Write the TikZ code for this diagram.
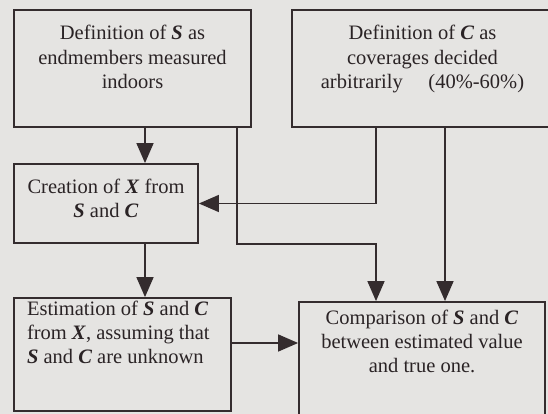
\documentclass[tikz,border=0pt]{standalone}
\usepackage{fontspec}
\setmainfont{Liberation Serif}
\usetikzlibrary{arrows.meta}

\definecolor{paper}{RGB}{229,228,226}
\definecolor{ink}{RGB}{52,44,46}

% bold italic symbols
\newcommand{\V}[1]{\textbf{\textit{#1}}}
% text of one box: [alignment]{width}{height}{first baseline}{text}
\newcommand{\boxtext}[5][\centering]{%
  \begin{minipage}[c][#3][t]{#2}#1\rule{0pt}{#4}#5\end{minipage}}

\tikzset{
  box/.style={draw=ink, line width=1.8pt, inner sep=0pt,
    font=\fontsize{20.5}{24.4}\selectfont, text=ink!80!black},
  arr/.style={draw=ink, line width=1.5pt,
    -{Triangle[length=20pt,width=17pt]}}
}

\begin{document}
\begin{tikzpicture}[x=1pt,y=-1pt]
  \fill[paper] (0,0) rectangle (548,414);
  \useasboundingbox (0,0) rectangle (548,414);

  % boxes
  \node[box] (defS) at (132.5,68.5)
    {\boxtext{237pt}{117pt}{30pt}{Definition of \V{S} as\\endmembers measured\\indoors}};
  \node[box] (defC) at (422.5,68.5)
    {\boxtext{261pt}{117pt}{30pt}{Definition of \V{C} as\\coverages decided\\arbitrarily\quad\ (40\%-60\%)}};
  \node[box] (creX) at (106,203.5)
    {\boxtext{184pt}{79pt}{29pt}{Creation of \V{X} from\\\V{S} and \V{C}}};
  \node[box] (estSC) at (122.5,354.5)
    {\boxtext[\raggedright\leftskip=13pt]{217pt}{113pt}{17pt}{Estimation of \V{S} and \V{C}\\from \V{X}, assuming that\\\V{S} and \V{C} are unknown}};
  \node[box] (cmpSC) at (422,366)
    {\boxtext{246pt}{128pt}{22pt}{Comparison of \V{S} and \V{C}\\between estimated value\\and true one.}};

  % connectors
  \coordinate (s1) at ([xshift=12.5pt]defS.south);
  \coordinate (s2) at ([xshift=104.5pt]defS.south);
  \coordinate (c1) at ([xshift=-46pt]cmpSC.north);
  \coordinate (c2) at (c1 |- defC.south);
  \coordinate (c3) at ([xshift=22.5pt]defC.south);

  \draw[arr] (s1) -- (s1 |- creX.north);
  \draw[arr] (s1 |- creX.south) -- (s1 |- estSC.north);
  \draw[arr] (s2) -- (s2 |- creX.south) -| (c1);
  \draw[arr] (c2) |- (creX.east);
  \draw[arr] (c3) -- (c3 |- cmpSC.north);
  \draw[arr] ([yshift=11.5pt]estSC.east) -- ([yshift=11.5pt]estSC.east -| cmpSC.west);
\end{tikzpicture}
\end{document}
